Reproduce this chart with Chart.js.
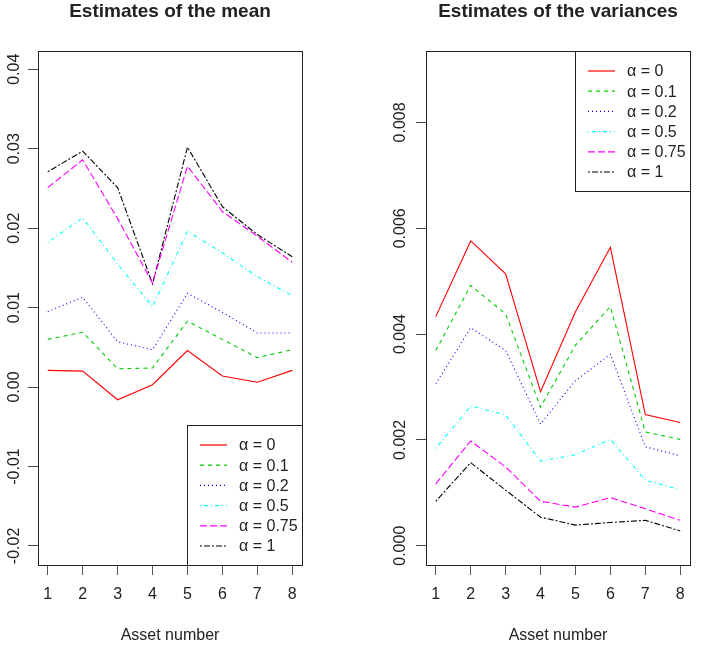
<!DOCTYPE html>
<html>
<head>
  <title>Estimates of the mean and variances</title>
  <script src="https://cdn.jsdelivr.net/npm/chart.js"></script>
  <style>
    body { margin: 0; background: white; }
    #wrap { position: relative; width: 711px; height: 649px; }
    canvas { position: absolute; top: 0; }
    #meanChart { left: 0; }
    #varChart { left: 355px; }
  </style>
</head>
<body>
<div id="wrap">
  <canvas id="meanChart" width="355" height="649"></canvas>
  <canvas id="varChart" width="356" height="649"></canvas>
</div>
<script>
  // data
  const assets = [1, 2, 3, 4, 5, 6, 7, 8];
  const alphaLabels = ["α = 0", "α = 0.1", "α = 0.2", "α = 0.5", "α = 0.75", "α = 1"];

  const meanAlpha0   = [0.0021, 0.0020, -0.0016, 0.0003, 0.0046, 0.0014, 0.0006, 0.0021];
  const meanAlpha01  = [0.0060, 0.0069, 0.0023, 0.0024, 0.0083, 0.0060, 0.0037, 0.0047];
  const meanAlpha02  = [0.0095, 0.0113, 0.0057, 0.0047, 0.0118, 0.0094, 0.0068, 0.0068];
  const meanAlpha05  = [0.0182, 0.0213, 0.0155, 0.0101, 0.0196, 0.0169, 0.0139, 0.0115];
  const meanAlpha075 = [0.0251, 0.0286, 0.0212, 0.0131, 0.0278, 0.0221, 0.0190, 0.0157];
  const meanAlpha1   = [0.0271, 0.0297, 0.0251, 0.0130, 0.0302, 0.0227, 0.0192, 0.0164];

  const varAlpha0   = [0.00433, 0.00576, 0.00514, 0.00291, 0.00442, 0.00564, 0.00248, 0.00233];
  const varAlpha01  = [0.00369, 0.00492, 0.00438, 0.00262, 0.00379, 0.00452, 0.00215, 0.00201];
  const varAlpha02  = [0.00306, 0.00412, 0.00369, 0.00230, 0.00312, 0.00362, 0.00187, 0.00170];
  const varAlpha05  = [0.00184, 0.00264, 0.00247, 0.00160, 0.00172, 0.00201, 0.00124, 0.00106];
  const varAlpha075 = [0.00117, 0.00198, 0.00149, 0.00084, 0.00073, 0.00091, 0.00070, 0.00048];
  const varAlpha1   = [0.00084, 0.00157, 0.00105, 0.00054, 0.00039, 0.00044, 0.00048, 0.00028];

  const meanTicks = [-0.02, -0.01, 0, 0.01, 0.02, 0.03, 0.04];
  const meanTickLabels = ["-0.02", "-0.01", "0.00", "0.01", "0.02", "0.03", "0.04"];
  const varTicks = [0, 0.002, 0.004, 0.006, 0.008];
  const varTickLabels = ["0.000", "0.002", "0.004", "0.006", "0.008"];

  // R style lines: col 2..6 + black, lty 1..6
  const lineColors = ["#ff0000", "#00cd00", "#0000ff", "#00ffff", "#ff00ff", "#000000"];
  const lineDashes = [[], [4, 4], [1, 3], [1, 3, 4, 3], [7, 3], [2, 2, 6, 2]];

  const FONT = "'Liberation Sans', Arial, sans-serif";
  const INK = "#222";

  function makeDatasets(seriesList) {
    return seriesList.map((vals, i) => ({
      label: alphaLabels[i],
      data: vals.map((v, j) => ({ x: assets[j], y: v })),
      borderColor: lineColors[i],
      borderDash: lineDashes[i],
      borderWidth: 1.1,
      pointRadius: 0,
      tension: 0,
      fill: false
    }));
  }

  // box around plot, rotated y labels, legend inside the plot
  const rStyle = {
    id: "rStyle",
    afterDraw(chart, args, opts) {
      const ctx = chart.ctx;
      const a = chart.chartArea;
      ctx.save();
      ctx.strokeStyle = INK;
      ctx.lineWidth = 1;
      ctx.setLineDash([]);
      ctx.strokeRect(Math.round(a.left) + 0.5, Math.round(a.top) + 0.5,
        Math.round(a.right - a.left), Math.round(a.bottom - a.top));

      // y tick labels, turned like R does
      const ys = chart.scales.y;
      ctx.fillStyle = INK;
      ctx.font = "16px " + FONT;
      ctx.textAlign = "center";
      ctx.textBaseline = "alphabetic";
      opts.yTicks.forEach((v, i) => {
        const py = ys.getPixelForValue(v);
        ctx.save();
        ctx.translate(a.left - opts.labelGap, py);
        ctx.rotate(-Math.PI / 2);
        ctx.fillText(opts.yLabels[i], 0, 0);
        ctx.restore();
      });

      // legend
      const lw = 115, lh = 140;
      const lx = Math.round(a.right) - lw;
      const ly = opts.legendAt === "top" ? Math.round(a.top) : Math.round(a.bottom) - lh;
      ctx.fillStyle = "white";
      ctx.fillRect(lx, ly, lw, lh);
      ctx.strokeStyle = INK;
      ctx.strokeRect(lx + 0.5, ly + 0.5, lw, lh);
      ctx.font = "16px " + FONT;
      ctx.textAlign = "left";
      ctx.textBaseline = "middle";
      chart.data.datasets.forEach((ds, i) => {
        const ry = ly + 20 + i * 20.2;
        ctx.save();
        ctx.lineWidth = 1.2;
        ctx.strokeStyle = ds.borderColor;
        ctx.setLineDash(ds.borderDash);
        ctx.beginPath();
        ctx.moveTo(lx + 13, ry);
        ctx.lineTo(lx + 40, ry);
        ctx.stroke();
        ctx.restore();
        ctx.fillStyle = INK;
        ctx.fillText(ds.label, lx + 52, ry + 1);
      });
      ctx.restore();
    }
  };

  function makeChart(id, title, seriesList, yMin, yMax, yTicks, yLabels, axisWidth, padRight, legendAt, labelGap) {
    const ctx = document.getElementById(id).getContext("2d");
    return new Chart(ctx, {
      type: "line",
      data: { datasets: makeDatasets(seriesList) },
      plugins: [rStyle],
      options: {
        responsive: false,
        animation: false,
        devicePixelRatio: 1,
        layout: { padding: { left: 0, right: padRight, top: 0, bottom: 0 } },
        plugins: {
          legend: { display: false },
          tooltip: { enabled: false },
          title: {
            display: true,
            text: title,
            fullSize: false,
            color: INK,
            font: { family: FONT, size: 19, weight: "bold", lineHeight: 1.2 },
            padding: { top: 0, bottom: 28.2 }
          },
          rStyle: { yTicks: yTicks, yLabels: yLabels, legendAt: legendAt, labelGap: labelGap }
        },
        scales: {
          x: {
            type: "linear",
            min: 0.72,
            max: 8.28,
            afterBuildTicks: s => { s.ticks = assets.map(v => ({ value: v })); },
            afterFit: s => { s.height = 84; },
            grid: { drawOnChartArea: false, drawTicks: true, tickLength: 10, color: "#555" },
            border: { display: true, color: INK },
            ticks: {
              color: INK,
              padding: 10,
              font: { family: FONT, size: 16 },
              callback: v => String(v)
            },
            title: {
              display: true,
              text: "Asset number",
              color: INK,
              font: { family: FONT, size: 16, lineHeight: 1.2 },
              padding: { top: 0, bottom: 4 }
            }
          },
          y: {
            type: "linear",
            min: yMin,
            max: yMax,
            afterBuildTicks: s => { s.ticks = yTicks.map(v => ({ value: v })); },
            afterFit: s => { s.width = axisWidth; },
            grid: { drawOnChartArea: false, drawTicks: true, tickLength: 10, color: "#444" },
            border: { display: true, color: INK },
            ticks: { display: false }
          }
        }
      }
    });
  }

  makeChart("meanChart", "Estimates of the mean",
    [meanAlpha0, meanAlpha01, meanAlpha02, meanAlpha05, meanAlpha075, meanAlpha1],
    -0.0224, 0.0423, meanTicks, meanTickLabels, 38, 53, "bottom", 19);

  makeChart("varChart", "Estimates of the variances",
    [varAlpha0, varAlpha01, varAlpha02, varAlpha05, varAlpha075, varAlpha1],
    -0.000364, 0.00935, varTicks, varTickLabels, 71, 21, "top", 21);
</script>
</body>
</html>
